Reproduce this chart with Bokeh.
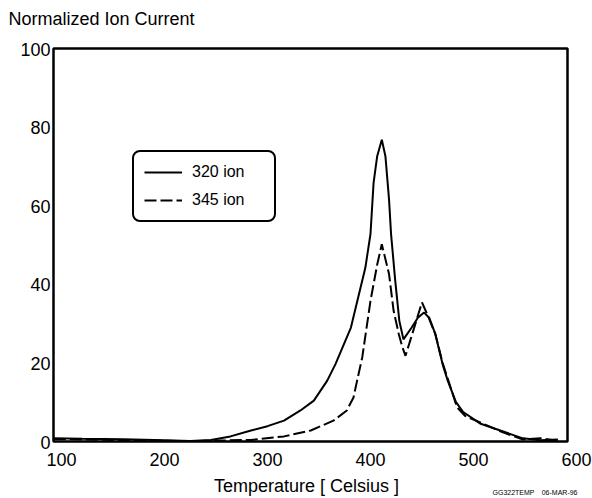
from bokeh.plotting import figure
from bokeh.models import (Range1d, Legend, LegendItem, LabelSet, Label,
                          ColumnDataSource, BoxAnnotation)
from bokeh.core.properties import value
from bokeh.embed import file_html
from bokeh.resources import INLINE

# ---- data ----
temp_320 = [92.5, 120, 160, 200, 225, 245, 264, 284, 300, 316,
            332, 345, 358, 366, 381, 395, 400, 403, 406.5, 411,
            414.5, 418, 420, 424, 428, 432, 440, 446, 452, 457,
            463, 470, 475, 483, 490, 507, 526, 548, 565, 582]
ion_320 = [0.8, 0.7, 0.6, 0.3, 0.1, 0.4, 1.3, 2.8, 3.9, 5.3,
           7.9, 10.4, 15.5, 19.7, 29.0, 44.2, 52.8, 65.8, 72.6, 76.8,
           72.6, 61.6, 52.7, 41.0, 30.7, 26.0, 29.0, 31.5, 32.8, 31.5,
           27.3, 19.7, 15.5, 10.0, 7.5, 4.5, 2.8, 0.8, 0.3, 0.5]

temp_345 = [92.5, 150, 200, 230, 254, 284, 316, 342, 364, 377,
            383.5, 387, 392, 400, 406.5, 411, 418, 422.5, 427.5, 431,
            434, 442, 450, 456.5, 463, 470, 475, 484, 492, 507,
            526, 548, 565, 582]
ion_345 = [0.6, 0.4, 0.2, 0.1, 0.25, 0.4, 1.3, 2.8, 5.3, 7.9,
           11.2, 15.5, 21.4, 35.8, 45.0, 50.2, 42.6, 33.2, 27.3, 24.0,
           21.8, 28.6, 35.4, 31.5, 27.3, 20.0, 16.0, 8.7, 6.5, 4.8,
           2.6, 0.5, 0.8, 0.2]

x_ticks = [100, 200, 300, 400, 500, 600]
x_tick_labels = ["100", "200", "300", "400", "500", "600"]
y_ticks = [0, 20, 40, 60, 80, 100]
y_tick_labels = ["0", "20", "40", "60", "80", "100"]

series_names = ["320 ion", "345 ion"]
y_title = "Normalized Ion Current"
x_title = "Temperature [ Celsius ]"
stamp_id = "GG322TEMP"
stamp_date = "06-MAR-96"

# ---- layout (pixels) ----
W, H = 592, 498
PX_L, PX_R, PX_T, PX_B = 53, 567, 48, 441      # plot box in the picture
X0, X1 = 92.2, 591.3                            # data span of the plot box
Y0, Y1 = 0, 100
sx = (PX_R - PX_L) / (X1 - X0)
sy = (PX_B - PX_T) / (Y1 - Y0)

FONT = "Liberation Sans"

p = figure(width=W, height=H, output_backend="svg", toolbar_location=None,
           x_range=Range1d(X0 - PX_L / sx, X1 + (W - PX_R) / sx),
           y_range=Range1d(Y0 - (H - PX_B) / sy, Y1 + PX_T / sy),
           x_axis_location=None, y_axis_location=None,
           min_border=0, title=None)
p.background_fill_color = "white"
p.border_fill_color = "white"
p.outline_line_color = None
p.grid.visible = False

# plot box
p.add_layout(BoxAnnotation(left=X0, right=X1, bottom=Y0, top=Y1,
                           fill_alpha=0, line_color="black", line_alpha=1.0,
                           line_width=2.5))

r1 = p.line(temp_320, ion_320, line_color="black", line_width=2)
r2 = p.line(temp_345, ion_345, line_color="black", line_width=2, line_dash="12 4")

# tick labels
xsrc = ColumnDataSource(dict(x=x_ticks, y=[Y0] * len(x_ticks), text=x_tick_labels))
p.add_layout(LabelSet(x="x", y="y", text="text", source=xsrc, y_offset=-24,
                      text_align="center", text_baseline="alphabetic",
                      text_font=value(FONT), text_font_size="18px",
                      text_color="black"))
ysrc = ColumnDataSource(dict(x=[X0] * len(y_ticks), y=y_ticks, text=y_tick_labels))
p.add_layout(LabelSet(x="x", y="y", text="text", source=ysrc, x_offset=-3,
                      y_offset=-7, text_align="right", text_baseline="alphabetic",
                      text_font=value(FONT), text_font_size="18px",
                      text_color="black"))

# titles and stamp
p.add_layout(Label(x=X0, y=Y1, x_offset=-45, y_offset=30, text=y_title,
                   text_font=FONT, text_font_size="18px", text_color="black",
                   text_align="left", text_baseline="alphabetic"))
p.add_layout(Label(x=(X0 + X1) / 2, y=Y0, x_offset=-4, y_offset=-44, text=x_title,
                   text_font=FONT, text_font_size="18px", text_color="black",
                   text_align="center", text_baseline="alphabetic"))
p.add_layout(Label(x=X1, y=Y0, x_offset=-75, y_offset=-51, text=stamp_id,
                   text_font=FONT, text_font_size="7px", text_color="black",
                   text_align="left", text_baseline="alphabetic"))
p.add_layout(Label(x=X1, y=Y0, x_offset=10, y_offset=-51, text=stamp_date,
                   text_font=FONT, text_font_size="7px", text_color="black",
                   text_align="right", text_baseline="alphabetic"))

legend = Legend(items=[LegendItem(label=series_names[0], renderers=[r1]),
                       LegendItem(label=series_names[1], renderers=[r2])],
                location=(132, H - 222), padding=10, spacing=8, margin=0,
                glyph_width=38, glyph_height=20, label_height=20,
                label_width=72, label_standoff=10,
                label_text_font=FONT, label_text_font_size="16px",
                label_text_color="black",
                border_line_color="black", border_line_width=2,
                border_line_alpha=1.0,
                border_radius=8, background_fill_color="white",
                background_fill_alpha=1.0)
p.add_layout(legend)

open("out.html", "w").write(file_html(p, INLINE))
